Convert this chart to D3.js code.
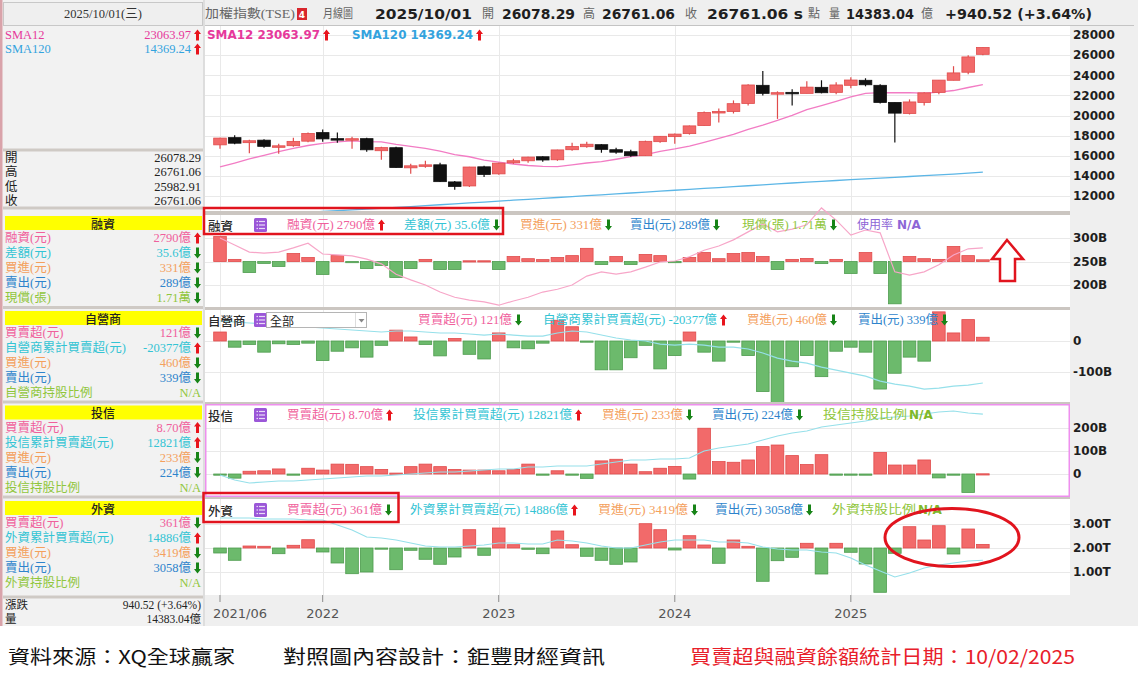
<!DOCTYPE html>
<html><head><meta charset="utf-8">
<script src="https://cdn.jsdelivr.net/npm/d3@7/dist/d3.min.js"></script>
<style>body{margin:0;background:#fff}svg{display:block}</style>
</head><body>
<svg id="chart" width="1138" height="676"></svg>
<script>
// ---------------- DATA ----------------
const months = ["2021/06","2021/07","2021/08","2021/09","2021/10","2021/11","2021/12",
"2022/01","2022/02","2022/03","2022/04","2022/05","2022/06","2022/07","2022/08","2022/09","2022/10","2022/11","2022/12",
"2023/01","2023/02","2023/03","2023/04","2023/05","2023/06","2023/07","2023/08","2023/09","2023/10","2023/11","2023/12",
"2024/01","2024/02","2024/03","2024/04","2024/05","2024/06","2024/07","2024/08","2024/09","2024/10","2024/11","2024/12",
"2025/01","2025/02","2025/03","2025/04","2025/05","2025/06","2025/07","2025/08","2025/09","2025/10"];

const openP  = [17083,17800,17300,17550,16900,17000,17450,18300,17700,17600,17700,16500,16800,14800,15000,15100,13400,13000,14900,14200,15300,15500,15900,15600,16600,16900,17100,16600,16400,16000,17400,17900,18200,19000,20300,20400,21200,23000,22200,22300,22200,22800,22300,23000,23500,23000,21300,20200,21300,22300,23500,24300,26078.29];
const highP  = [17800,18034,17600,17650,17200,17800,18300,18619,18300,17900,17800,16900,16900,15200,15500,15300,13500,14900,15000,15300,15700,15900,15950,16600,17300,17400,17150,16800,16600,17500,17950,18200,19000,20400,20700,21500,23100,24416,22400,22600,23400,23500,23300,23800,23700,23100,21300,21600,22300,23500,24900,26000,26761.06];
const lowP   = [16700,17150,16250,16800,16200,16900,17350,17400,17300,16700,16400,15600,14800,14200,14800,13400,12629,12900,13900,14100,15200,15300,15400,15500,16500,16800,16300,16200,15900,16000,17300,17200,18100,19000,19300,20200,21000,22000,19662,21000,22200,22200,22100,22700,22900,21200,17306,20100,21000,22100,23500,24100,25982.91];
const closeP = [17755,17247,17490,16935,16987,17428,18219,17674,17652,17693,16592,16807,14826,15000,15095,13425,12950,14880,14138,15265,15504,15868,15579,16579,16916,17145,16634,16353,16001,17433,17931,18151,18967,20295,20397,21175,23033,22199,22268,22225,22820,22263,23035,23526,23053,21298,20235,21347,22249,23516,24233,25821,26761.06];
const sma12  = [14890,15272,15680,16049,16419,16728,17018,17229,17371,17476,17395,17373,17129,16942,16742,16450,16113,15901,15561,15360,15181,15029,14945,14926,15100,15279,15407,15651,15905,16118,16434,16675,16963,17332,17734,18117,18626,19047,19517,20006,20575,20977,21402,21850,22191,22274,22261,22275,22210,22320,22483,22783,23064];
const sma120 = [9900,9980,10060,10140,10220,10300,10380,10460,10540,10620,10700,10780,10860,10950,11040,11130,11220,11310,11400,11490,11580,11670,11760,11850,11940,12030,12120,12210,12300,12390,12480,12570,12660,12750,12840,12930,13020,13110,13200,13290,13380,13460,13540,13620,13700,13780,13860,13940,14020,14100,14180,14270,14369];

// 融資 (億元)
const marginChange  = [530,45,-235,-40,-105,170,85,-275,125,-15,-150,-85,-340,-150,45,-170,-170,15,15,-170,105,60,40,85,125,280,-65,105,-65,150,125,-20,85,190,60,170,190,105,-170,45,65,-45,45,-255,190,-255,-900,105,60,45,320,125,36];
const marginBalance = [3000,2850,2700,2680,2700,2790,2890,2660,2640,2620,2550,2450,2230,2110,2000,1850,1740,1680,1640,1570,1660,1740,1850,1910,2000,2190,2280,2230,2280,2380,2490,2510,2600,2740,2830,2960,3130,3300,3130,3190,3280,3640,3380,3060,3170,3110,2280,2210,2280,2430,2640,2770,2790];
// 自營商 (億元)
const dealerNet = [290,-200,-110,-360,-90,-110,-70,-630,-330,-220,-520,-140,350,130,-110,-480,80,-430,-580,260,-220,-250,-70,670,460,-20,-930,-930,-540,-140,-900,-470,290,-360,-650,-20,-470,-1630,-1990,-830,-470,-1150,-330,-200,-360,-1550,-1040,-520,-650,940,260,690,121];
const dealerCum = [0,-330,-660,-990,-1320,-1650,-1970,-2300,-2630,-2960,-3290,-3620,-3290,-3290,-3620,-3950,-3950,-4280,-4610,-4280,-4610,-4940,-4940,-3950,-3290,-3620,-4610,-5590,-6250,-6580,-7570,-7900,-7570,-7900,-8560,-8560,-9210,-10530,-12180,-13160,-13820,-15140,-16120,-17110,-18100,-19740,-20730,-21390,-22380,-22050,-21390,-21060,-20377];
// 投信 (億元)
const trustNet = [-30,-180,120,140,220,-20,250,170,430,420,320,200,40,320,430,320,200,170,170,140,200,430,-20,140,-20,-190,570,640,430,100,250,330,-220,1990,540,510,610,1190,1260,800,410,840,-20,-20,-30,940,390,390,610,-170,-30,-800,8.7];
const trustCum = [1488,558,0,186,372,372,558,744,930,1116,1302,1302,1488,1674,1860,2046,2046,2232,2418,2604,2604,2976,2976,3162,3162,3162,3534,3906,4278,4278,4464,4464,4650,5952,6510,6882,7254,7998,8742,9300,9672,10416,10788,11160,11532,12090,12276,12462,12834,13206,13392,13020,12821];
// 外資 (億元)
const foreignNet = [-500,-1230,200,170,-570,270,830,-400,-1500,-2570,-2400,-100,-2170,-230,-1130,-1630,-900,1830,-730,2000,330,-130,-570,1700,330,-830,-1230,-1630,-1400,2430,1830,-200,1230,300,-1530,800,170,-3330,-1270,-930,470,-2600,470,-430,-1600,-4430,-530,2130,800,2230,-600,1900,361];
const foreignCum = [32500,32500,32500,32080,32080,32080,31670,31670,29580,27500,24580,24170,23330,22080,20830,20420,20420,20830,21250,22080,22080,21670,21670,23330,22920,22080,20830,20000,20000,21250,22500,23330,23330,23330,22500,22500,22080,20420,19580,19170,19170,18330,17920,15830,12920,10420,7920,9580,11670,12920,13750,14580,14886];

// ticks
const xTicks = ["2021/06","2022/01","2023/01","2024/01","2025/01"];
const xTickLabels = ["2021/06","2022","2023","2024","2025"];
const priceTicks = [12000,14000,16000,18000,20000,22000,24000,26000,28000];
const marginTicks = [2000,2500,3000];
const marginTickLabels = ["200B","250B","300B"];
const dealerTicks = [-1000,0];
const dealerTickLabels = ["-100B","0"];
const trustTicks = [0,1000,2000];
const trustTickLabels = ["0","100B","200B"];
const foreignTicks = [10000,20000,30000];
const foreignTickLabels = ["1.00T","2.00T","3.00T"];

// texts
const topHeader = [["加權指數(TSE)","g"],["月線圖","g"],["2025/10/01","b"],["開","g"],["26078.29","b"],["高","g"],["26761.06","b"],["收","g"],["26761.06 s","b"],["點","g"],["量","g"],["14383.04","b"],["億","g"],["+940.52 (+3.64%)","b"]];
const smaHeader = [["SMA12 23063.97","sma12","up"],["SMA120 14369.24","sma120","up"]];
const ohlcRows = [["開","26078.29"],["高","26761.06"],["低","25982.91"],["收","26761.06"]];
const marginHeader = [["融資(元) 2790億","pink","up"],["差額(元) 35.6億","cyan","down"],["買進(元) 331億","orange","down"],["賣出(元) 289億","blue","down"],["現償(張) 1.71萬","green","down"],["使用率","purple",null]];
const dealerHeader = [["買賣超(元) 121億","pink","down"],["自營商累計買賣超(元) -20377億","cyan","up"],["買進(元) 460億","orange","down"],["賣出(元) 339億","blue","down"]];
const trustHeader = [["買賣超(元) 8.70億","pink","up"],["投信累計買賣超(元) 12821億","cyan","up"],["買進(元) 233億","orange","down"],["賣出(元) 224億","blue","down"],["投信持股比例","green",null]];
const foreignHeader = [["買賣超(元) 361億","pink","down"],["外資累計買賣超(元) 14886億","cyan","up"],["買進(元) 3419億","orange","down"],["賣出(元) 3058億","blue","down"],["外資持股比例","green",null]];
const leftSections = [
 {title:"融資", rows:[["融資(元)","2790億","pink","up"],["差額(元)","35.6億","cyan","down"],["買進(元)","331億","orange","down"],["賣出(元)","289億","blue","down"],["現償(張)","1.71萬","green","down"]]},
 {title:"自營商", rows:[["買賣超(元)","121億","pink","down"],["自營商累計買賣超(元)","-20377億","cyan","up"],["買進(元)","460億","orange","down"],["賣出(元)","339億","blue","down"],["自營商持股比例","N/A","green",null]]},
 {title:"投信", rows:[["買賣超(元)","8.70億","pink","up"],["投信累計買賣超(元)","12821億","cyan","up"],["買進(元)","233億","orange","down"],["賣出(元)","224億","blue","down"],["投信持股比例","N/A","green",null]]},
 {title:"外資", rows:[["買賣超(元)","361億","pink","down"],["外資累計買賣超(元)","14886億","cyan","up"],["買進(元)","3419億","orange","down"],["賣出(元)","3058億","blue","down"],["外資持股比例","N/A","green",null]]}
];
const footer = ["資料來源：XQ全球贏家","對照圖內容設計：鉅豐財經資訊","買賣超與融資餘額統計日期：10/02/2025"];

// ---------------- STYLE / LAYOUT ----------------
const C = {pink:"#f0609c",cyan:"#34c4d4",orange:"#f4a05c",blue:"#2e84cc",green:"#90c63c",purple:"#8d66d6",
  sma12:"#e6399b",sma120:"#33a3de"};
const FM = "'Liberation Serif','Noto Sans CJK TC',serif";
const FB = "'DejaVu Sans',sans-serif";
const FC = "'Noto Sans CJK TC',sans-serif";
const RED_F="#f26a6a", RED_S="#e04b4b", GRN_F="#6cba6c", GRN_S="#4e9c4e";
const L = 205, R = 1070;
const P = {price:[26,211], margin:[215,307], dealer:[310,402], trust:[404,497], foreign:[499,595]};

const svg = d3.select("#chart");
const defs = svg.append("defs");
svg.append("rect").attr("width",1138).attr("height",676).attr("fill","#fff");
svg.append("rect").attr("width",1138).attr("height",626).attr("fill","#efefef");
svg.append("rect").attr("x",L).attr("y",26).attr("width",R-L).attr("height",595-26).attr("fill","#cbc6c1");
Object.entries(P).forEach(([k,[t,b]])=>{
  svg.append("rect").attr("x",L).attr("y",t).attr("width",R-L).attr("height",b-t).attr("fill","#fff");
  defs.append("clipPath").attr("id","clip-"+k).append("rect").attr("x",L).attr("y",t).attr("width",R-L).attr("height",b-t);
});
defs.append("clipPath").attr("id","clip-marginline").append("rect").attr("x",L).attr("y",200).attr("width",R-L).attr("height",107);

// scales
const x = d3.scaleBand().domain(months).range([212.67,990.2]).paddingInner(0.14).paddingOuter(0.07);
const cx = i => x(months[i]) + x.bandwidth()/2;
const yPrice = d3.scaleLinear().domain([12000,28000]).range([196,35]);
const yMarginLine = d3.scaleLinear().domain([2000,3000]).range([285,238]);
const yMarginBar = d3.scaleLinear().domain([-500,500]).range([285,238]);
const yDealerBar = d3.scaleLinear().domain([-1000,0]).range([372,341]);
const yDealerCum = d3.scaleLinear().domain([-20377,0]).range([383,321]);
const yTrustBar = d3.scaleLinear().domain([0,2000]).range([474,428]);
const yTrustCum = d3.scaleLinear().domain([0,12834]).range([483,414]);
const yForeignLine = d3.scaleLinear().domain([10000,30000]).range([572,524]);
const yForeignBar = d3.scaleLinear().domain([-1000,1000]).range([558,538]);

// grids
function grid(panel, scale, ticks){
  const [t,b] = P[panel];
  const g = svg.append("g").attr("stroke","#e9e9e9").attr("stroke-width",1);
  ticks.forEach(v=>g.append("line").attr("x1",L).attr("x2",R).attr("y1",Math.round(scale(v))+0.5).attr("y2",Math.round(scale(v))+0.5));
  xTicks.forEach(m=>{const xx=Math.round(x(m)+x.bandwidth()/2)+0.5; g.append("line").attr("x1",xx).attr("x2",xx).attr("y1",t).attr("y2",b);});
}
grid("price",yPrice,priceTicks);
grid("margin",yMarginLine,marginTicks);
grid("dealer",yDealerBar,dealerTicks);
grid("trust",yTrustBar,trustTicks);
grid("foreign",yForeignLine,foreignTicks);

// trust border
svg.append("rect").attr("x",L+0.75).attr("y",404.75).attr("width",R-L-1.5).attr("height",91.5).attr("fill","none").attr("stroke","#ee8fee").attr("stroke-width",1.5);

// ---- price panel
const gp = svg.append("g").attr("clip-path","url(#clip-price)");
const line = (arr,ys)=>d3.line().x((d,i)=>cx(i)).y(d=>ys(d))(arr);
gp.append("path").attr("d",line(sma120,yPrice)).attr("fill","none").attr("stroke","#5cb6e6").attr("stroke-width",1.3);
gp.append("path").attr("d",line(sma12,yPrice)).attr("fill","none").attr("stroke","#f27cc4").attr("stroke-width",1.3);
months.forEach((m,i)=>{
  const up = closeP[i] >= openP[i];
  const col = up ? RED_F : "#111";
  gp.append("line").attr("x1",cx(i)).attr("x2",cx(i)).attr("y1",yPrice(highP[i])).attr("y2",yPrice(lowP[i])).attr("stroke",up?RED_S:"#111").attr("stroke-width",1.2);
  const y1 = yPrice(Math.max(openP[i],closeP[i])), y2 = yPrice(Math.min(openP[i],closeP[i]));
  gp.append("rect").attr("x",x(m)).attr("width",x.bandwidth()).attr("y",y1).attr("height",Math.max(1.5,y2-y1))
    .attr("fill",col).attr("stroke",up?RED_S:"#111").attr("stroke-width",0.8);
});

// ---- bars
function bars(panel, data, ys){
  const g = svg.append("g").attr("clip-path",`url(#clip-${panel})`);
  g.selectAll("rect").data(data).join("rect")
   .attr("x",(d,i)=>x(months[i])).attr("width",x.bandwidth())
   .attr("y",d=>Math.min(ys(d),ys(0))).attr("height",d=>Math.max(1.2,Math.abs(ys(d)-ys(0))))
   .attr("fill",d=>d>=0?RED_F:GRN_F).attr("stroke",d=>d>=0?RED_S:GRN_S).attr("stroke-width",0.8);
  return g;
}
bars("margin",marginChange,yMarginBar);
svg.append("g").attr("clip-path","url(#clip-marginline)").append("path").attr("d",line(marginBalance,yMarginLine)).attr("fill","none").attr("stroke","#f7a6c8").attr("stroke-width",1.2);
bars("dealer",dealerNet,yDealerBar).append("path").attr("d",line(dealerCum,yDealerCum)).attr("fill","none").attr("stroke","#96e0ea").attr("stroke-width",1.2);
bars("trust",trustNet,yTrustBar).append("path").attr("d",line(trustCum,yTrustCum)).attr("fill","none").attr("stroke","#96e0ea").attr("stroke-width",1.2);
bars("foreign",foreignNet,yForeignBar).append("path").attr("d",line(foreignCum,yForeignLine)).attr("fill","none").attr("stroke","#96e0ea").attr("stroke-width",1.2);

// ---- right axes
function rightAxis(scale, ticks, labels){
  const g = svg.append("g").attr("transform",`translate(${R},0)`)
    .call(d3.axisRight(scale).tickValues(ticks).tickFormat((d,i)=>labels[i]).tickSize(0).tickPadding(3));
  g.select(".domain").remove();
  g.selectAll("text").attr("font-family",FB).attr("font-weight","bold").attr("font-size",12).attr("fill","#1e1e1e");
}
rightAxis(yPrice,priceTicks,priceTicks.map(String));
rightAxis(yMarginLine,marginTicks,marginTickLabels);
rightAxis(yDealerBar,dealerTicks,dealerTickLabels);
rightAxis(yTrustBar,trustTicks,trustTickLabels);
rightAxis(yForeignLine,foreignTicks,foreignTickLabels);

// ---- x axis
const gx = svg.append("g").attr("transform","translate(0,595)")
  .call(d3.axisBottom(x).tickValues(xTicks).tickFormat((d,i)=>xTickLabels[i]).tickSize(7).tickPadding(7));
gx.select(".domain").remove();
gx.selectAll("line").attr("stroke","#8a8a8a");
gx.selectAll("text").attr("font-family",FB).attr("font-size",13).attr("fill","#555");
gx.selectAll(".tick").filter((d,i)=>i===0).select("text").attr("text-anchor","start").attr("x",-7);

// ---- helpers
function arrow(g, x0, yc, dir){
  if(!dir) return;
  const up = dir==="up", s = up?1:-1;
  const pts = [[3.5,-5.5],[7,-1],[5,-1],[5,5.5],[2,5.5],[2,-1],[0,-1]].map(([a,b])=>[x0+a, yc+s*b]);
  g.append("path").attr("d","M"+pts.join("L")+"Z").attr("fill",up?"#e8141c":"#178417");
}
function icon(g, x0, yc){
  g.append("rect").attr("x",x0).attr("y",yc-7).attr("width",13).attr("height",14).attr("rx",1.5).attr("fill","#9b57d8");
  [-3.5,0,3.5].forEach(d=>{
    g.append("rect").attr("x",x0+2.5).attr("y",yc+d-0.6).attr("width",1.5).attr("height",1.2).attr("fill","#e9dcf7");
    g.append("rect").attr("x",x0+5).attr("y",yc+d-0.6).attr("width",6).attr("height",1.2).attr("fill","#e9dcf7");
  });
}
function txt(g, s, x0, y0, o={}){
  const t = g.append("text").attr("x",x0).attr("y",y0).attr("dominant-baseline","central")
    .attr("font-family",o.f||FM).attr("font-size",o.size||12).attr("fill",o.c||"#222").text(s);
  if(o.w) t.attr("font-weight",o.w);
  if(o.anchor) t.attr("text-anchor",o.anchor);
  if(o.len) t.attr("textLength",o.len).attr("lengthAdjust","spacingAndGlyphs");
  return t;
}

// ---- top header
const hg = svg.append("g");
hg.append("line").attr("x1",L).attr("x2",1134).attr("y1",25.5).attr("y2",25.5).attr("stroke","#c4c4c4");
const topX = [205,323,375,482,502,583,602,685,707,808,829,846,921,945];
const topLen = [90,30,97,12,73,12,73,12,96,12,11,68,12,147];
topHeader.forEach(([s,k],i)=>{
  if(k==="b") txt(hg,s,topX[i],14,{f:FB,w:"bold",size:14,c:"#1f1f1f",len:topLen[i]});
  else txt(hg,s,topX[i],14,{size:12.5,c:"#666",len:topLen[i]});
});
hg.append("rect").attr("x",297).attr("y",8).attr("width",10).attr("height",12).attr("fill","#d8262c");
txt(hg,"4",302,14.5,{f:FB,w:"bold",size:9,c:"#fff",anchor:"middle"});

// ---- price header
const smaX=[207,352], smaLen=[113,121];
smaHeader.forEach(([s,k,d],i)=>{ txt(hg,s,smaX[i],35,{f:FB,w:"bold",size:12,c:C[k],len:smaLen[i]}); arrow(hg,smaX[i]+smaLen[i]+3,35,d); });

// ---- panel headers
function panelHeader(name, yc, items, xs, lens, na){
  const g = svg.append("g");
  txt(g,name,208,yc,{f:FC,size:12.5,c:"#2a2a2a",w:500});
  icon(g,254,yc);
  items.forEach(([s,k,d],i)=>{ txt(g,s,xs[i],yc,{c:C[k],size:12,len:lens[i]}); arrow(g,xs[i]+lens[i]+3,yc,d); });
  if(na){ txt(g,"N/A",na[0],yc,{f:FB,w:"bold",size:12,c:na[1]}); }
  return g;
}
panelHeader("融資",225,marginHeader,[287,404,520,630,742,857],[88,86,82,80,85,36],[897,C.purple]);
const dg = panelHeader("自營商",320,dealerHeader,[418,543,747,858],[94,174,80,80]);
// dropdown
dg.append("rect").attr("x",266.5).attr("y",312.5).attr("width",100).attr("height",15).attr("fill","#fff").attr("stroke","#b5b5b5");
dg.append("line").attr("x1",355.5).attr("x2",355.5).attr("y1",313).attr("y2",327).attr("stroke","#ddd");
dg.append("path").attr("d","M358.5,319 L364.5,319 L361.5,322.5 Z").attr("fill","#888");
txt(dg,"全部",270,320,{f:FC,size:12,c:"#222"});
panelHeader("投信",415,trustHeader,[287,413,602,712,823],[96,159,81,81,84],[909,"#7fb82a"]);
panelHeader("外資",510,foreignHeader,[287,410,598,715,832],[95,158,90,88,84],[918,"#7fb82a"]);

// ---- left panel
const lp = svg.append("g");
lp.append("rect").attr("x",0).attr("y",0).attr("width",205).attr("height",626).attr("fill","#f2f2f2");
lp.append("rect").attr("x",0).attr("y",0).attr("width",2.5).attr("height",626).attr("fill","#d9a3aa");
lp.append("rect").attr("x",3.5).attr("y",2.5).attr("width",199).attr("height",23).attr("fill","#efefef").attr("stroke","#c8c8c8");
txt(lp,"2025/10/01(三)",103,14,{size:12.5,c:"#333",anchor:"middle"});
[150,208,307.5,402,497,597].forEach(yy=>lp.append("rect").attr("x",3).attr("y",yy-1.5).attr("width",200).attr("height",3).attr("fill","#cfcac5"));
lp.append("line").attr("x1",204).attr("x2",204).attr("y1",0).attr("y2",626).attr("stroke","#c9c9c9");
smaHeader.forEach(([s,k,d],i)=>{
  const [lab,val] = s.split(" ");
  const yy = 35+i*14;
  txt(lp,lab,5,yy,{size:12.5,c:C[k]});
  txt(lp,val,191,yy,{size:12.5,c:C[k],anchor:"end"});
  arrow(lp,194,yy,d);
});
ohlcRows.forEach(([l,v],i)=>{ const yy=158+i*14.3; txt(lp,l,5,yy,{size:12.5,c:"#222"}); txt(lp,v,201,yy,{size:12.5,c:"#222",anchor:"end"}); });
const bandY = [223,318,412.5,508];
leftSections.forEach((sec,si)=>{
  const yb = bandY[si];
  lp.append("rect").attr("x",5).attr("y",yb-7).attr("width",197).attr("height",14).attr("fill","#ffff00");
  txt(lp,sec.title,103,yb,{f:FC,size:12,c:"#222",anchor:"middle",w:500});
  sec.rows.forEach(([l,v,k,d],ri)=>{
    const yy = yb+15+ri*15;
    txt(lp,l,5,yy,{size:12.5,c:C[k]});
    txt(lp,v,d?191:201,yy,{size:12.5,c:C[k],anchor:"end"});
    arrow(lp,194,yy,d);
  });
});
txt(lp,"漲跌",5,605,{size:11.5,c:"#222"}); txt(lp,"940.52 (+3.64%)",201,605,{size:11.5,c:"#222",anchor:"end"});
txt(lp,"量",5,618.5,{size:11.5,c:"#222"}); txt(lp,"14383.04億",201,618.5,{size:11.5,c:"#222",anchor:"end"});

// ---- annotations
const an = svg.append("g").attr("fill","none").attr("stroke","#e1141e");
an.append("rect").attr("x",204).attr("y",208).attr("width",299).attr("height",26).attr("stroke-width",2.5);
an.append("rect").attr("x",203.5).attr("y",493).attr("width",195).attr("height",29).attr("stroke-width",2.5);
an.append("path").attr("d","M1007,240 L1023,259 L1015,259 L1015,281 L1000,281 L1000,259 L992,259 Z").attr("stroke-width",2.5).attr("fill","#fff");
an.append("ellipse").attr("cx",952).attr("cy",537.5).attr("rx",67).attr("ry",29).attr("stroke-width",3);

// ---- footer
const fx=[8,283,690], fl=[227,322,385], fc=["#111","#111","#e8202a"];
footer.forEach((s,i)=>txt(svg,s,fx[i],655,{f:FC,size:19,c:fc[i],len:fl[i],w:400}));
</script>
</body></html>
